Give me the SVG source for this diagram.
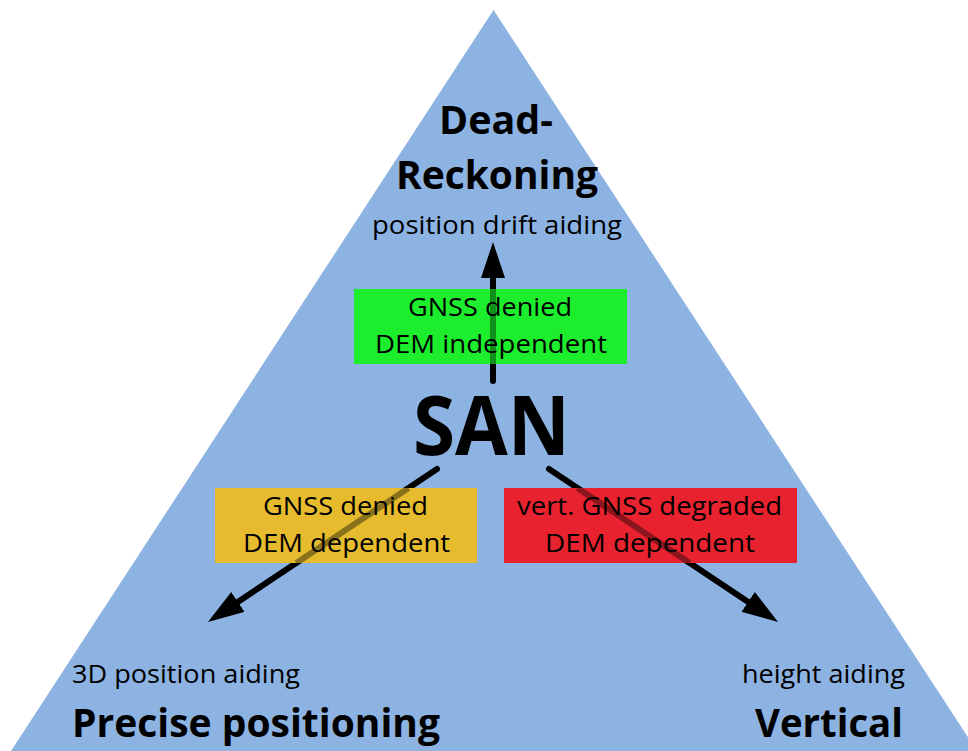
<svg xmlns="http://www.w3.org/2000/svg" width="968" height="751" viewBox="0 0 968 751">
  <defs>
    <marker id="head" markerUnits="userSpaceOnUse" markerWidth="36" markerHeight="24" refX="6" refY="12" orient="auto" viewBox="0 0 36 24">
      <path d="M0,0 L36,12 L0,24 z" fill="#000"/>
    </marker>
  </defs>
  <style>
    .t { font-family: "Open Sans", "Noto Sans", "Liberation Sans", sans-serif; fill: #000; }
    .title { font-weight: bold; font-size: 40px; }
    .sub { font-size: 26px; }
    .box { font-size: 26px; text-anchor: middle; }
    .arrow { stroke: #000; stroke-width: 6; fill: none; stroke-linecap: round; marker-end: url(#head); }
    .shade { stroke: #000; stroke-width: 6; stroke-opacity: 0.4; fill: none; }
  </style>
  <rect x="0" y="0" width="968" height="751" fill="#fff"/>
  <polygon id="triangle" points="493.5,10 977,751 11,751" fill="#8DB3E3"/>

  <g id="connectors">
    <path class="arrow" d="M493,381 L493,272"/>
    <path class="arrow" d="M437,469 L232.9,605.3"/>
    <path class="arrow" d="M549,469 L753.1,605.3"/>
  </g>

  <g id="dead-reckoning">
    <text class="t title" x="496" y="134" text-anchor="middle" textLength="114" lengthAdjust="spacingAndGlyphs">Dead-</text>
    <text class="t title" x="497" y="189" text-anchor="middle" textLength="202" lengthAdjust="spacingAndGlyphs">Reckoning</text>
    <text class="t sub" x="497" y="234" text-anchor="middle" textLength="250" lengthAdjust="spacingAndGlyphs">position drift aiding</text>
  </g>

  <g id="san">
    <text class="t" x="491.5" y="455" text-anchor="middle" font-size="82" font-weight="bold" textLength="157" lengthAdjust="spacingAndGlyphs">SAN</text>
  </g>

  <g id="box-green">
    <rect x="354" y="289" width="273" height="75" fill="#1CEE2D"/>
    <text class="t box" x="490" y="316" textLength="164" lengthAdjust="spacingAndGlyphs">GNSS denied</text>
    <text class="t box" x="491" y="353" textLength="232" lengthAdjust="spacingAndGlyphs">DEM independent</text>
  </g>

  <g id="box-yellow">
    <rect x="215" y="488" width="262" height="75" fill="#E6BC2E"/>
    <text class="t box" x="345.5" y="515" textLength="165" lengthAdjust="spacingAndGlyphs">GNSS denied</text>
    <text class="t box" x="346.5" y="552" textLength="207" lengthAdjust="spacingAndGlyphs">DEM dependent</text>
  </g>

  <g id="box-red">
    <rect x="504" y="488" width="293" height="75" fill="#E8232F"/>
    <text class="t box" x="649.5" y="515" textLength="265" lengthAdjust="spacingAndGlyphs">vert. GNSS degraded</text>
    <text class="t box" x="650" y="552" textLength="210" lengthAdjust="spacingAndGlyphs">DEM dependent</text>
  </g>

  <g id="connector-shading">
    <path class="shade" d="M493,289 L493,364"/>
    <path class="shade" d="M408.6,488 L296.3,563"/>
    <path class="shade" d="M577.4,488 L689.7,563"/>
  </g>

  <g id="precise-positioning">
    <text class="t sub" x="72" y="683" textLength="228" lengthAdjust="spacingAndGlyphs">3D position aiding</text>
    <text class="t title" x="72" y="737" textLength="368" lengthAdjust="spacingAndGlyphs">Precise positioning</text>
  </g>

  <g id="vertical">
    <text class="t sub" x="742" y="683" textLength="163" lengthAdjust="spacingAndGlyphs">height aiding</text>
    <text class="t title" x="755" y="737" textLength="148" lengthAdjust="spacingAndGlyphs">Vertical</text>
  </g>
</svg>
